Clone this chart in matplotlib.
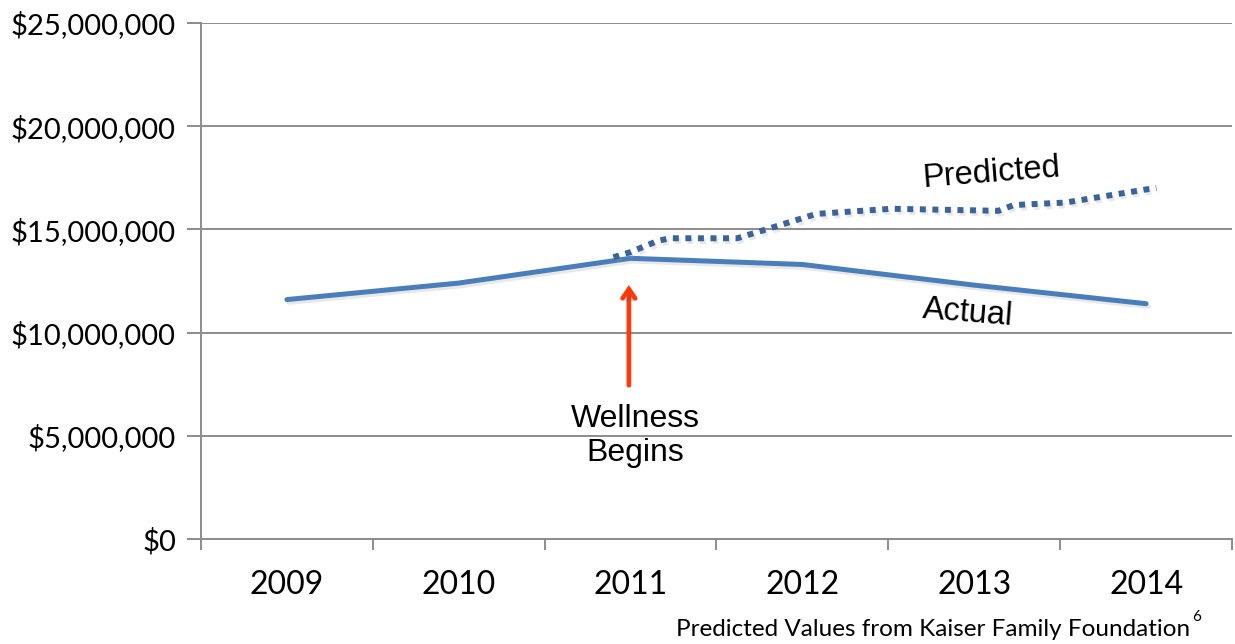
import matplotlib
matplotlib.use("Agg")
import matplotlib.pyplot as plt
import matplotlib.patheffects as pe
from matplotlib.ticker import FuncFormatter, FixedLocator

years = [2009, 2010, 2011, 2012, 2013, 2014]
year_labels = ["2009", "2010", "2011", "2012", "2013", "2014"]
actual = [11.6e6, 12.4e6, 13.6e6, 13.3e6, 12.3e6, 11.4e6]

# hand-drawn "Predicted" curve (x in year units, value in dollars)
pred_x = [2010.90, 2011.00, 2011.16, 2011.23, 2011.62, 2011.75, 2012.08,
          2012.52, 2013.14, 2013.23, 2013.53, 2014.01, 2014.06]
pred_y = [13.65e6, 13.9e6, 14.45e6, 14.57e6, 14.57e6, 14.9e6, 15.75e6,
          16.0e6, 15.9e6, 16.18e6, 16.3e6, 16.95e6, 17.0e6]

yticks = [0, 5e6, 10e6, 15e6, 20e6, 25e6]

fig = plt.figure(figsize=(12.35, 6.44), dpi=100)
ax = fig.add_axes([201/1235, 1-539/644, (1232-201)/1235, (539-23)/644])

grid_c = "#8c8c8c"
ax.set_xlim(2008.5, 2014.5)
ax.set_ylim(0, 25e6)
ax.yaxis.set_major_locator(FixedLocator(yticks))
ax.yaxis.set_major_formatter(FuncFormatter(lambda v, p: "${:,.0f}".format(v)))
ax.grid(axis="y", color=grid_c, linewidth=1.4)
ax.set_axisbelow(True)

ax.set_xticks(years)
ax.set_xticklabels(year_labels)
ax.set_xticks([y - 0.5 for y in years] + [2014.5], minor=True)
ax.tick_params(axis="x", which="major", length=0, pad=22, labelsize=23)
ax.tick_params(axis="x", which="minor", length=8, width=1.4, color=grid_c, direction="out")
ax.tick_params(axis="y", which="major", length=10, width=1.4, color=grid_c, labelsize=21, pad=8)

for lab in ax.get_xticklabels() + ax.get_yticklabels():
    lab.set_family(["Lato", "DejaVu Sans"])

for s in ["top", "right"]:
    ax.spines[s].set_visible(False)
for s in ["left", "bottom"]:
    ax.spines[s].set_color(grid_c)
    ax.spines[s].set_linewidth(1.4)

shadow = [pe.SimpleLineShadow(offset=(1.5, -2), shadow_color="#999999", alpha=0.22), pe.Normal()]

ax.plot(years, actual, color="#4a7ebb", linewidth=3.6, solid_capstyle="round",
        solid_joinstyle="round", path_effects=shadow, zorder=3)
ax.plot(pred_x, pred_y, color="#3a6497", linewidth=4.3, linestyle=(0, (1.0, 1.1)),
        dash_capstyle="butt", path_effects=shadow, zorder=4)

# arrow
ax.annotate("", xy=(2010.99, 12.3e6), xytext=(2010.99, 7.45e6),
            arrowprops=dict(arrowstyle="->,head_length=0.65,head_width=0.45",
                            color="#ff3a0a", lw=3.4, shrinkA=0, shrinkB=0,
                            capstyle="round", joinstyle="miter",
                            path_effects=[pe.SimplePatchShadow(offset=(1.5, -2), alpha=0.2), pe.Normal()]),
            zorder=5)

tfam = ["Liberation Sans", "DejaVu Sans"]
ax.text(2011.03, 5.0e6, "Wellness\nBegins", ha="center", va="center", fontsize=23,
        family=tfam, linespacing=1.17)
ax.text(2013.10, 17.75e6, "Predicted", ha="center", va="center", fontsize=23.5,
        family=tfam, rotation=4.5)
ax.text(2012.96, 10.95e6, "Actual", ha="center", va="center", fontsize=23.5,
        family=tfam, rotation=-4.5)

fig.text(1190/1235, 1-629/644, "Predicted Values from Kaiser Family Foundation",
         ha="right", va="center", fontsize=17.5, family=["Lato", "DejaVu Sans"])
fig.text(1192/1235, 1-617/644, "6", ha="left", va="center", fontsize=11,
         family=["Lato", "DejaVu Sans"])

fig.savefig("out.png", dpi=100)
